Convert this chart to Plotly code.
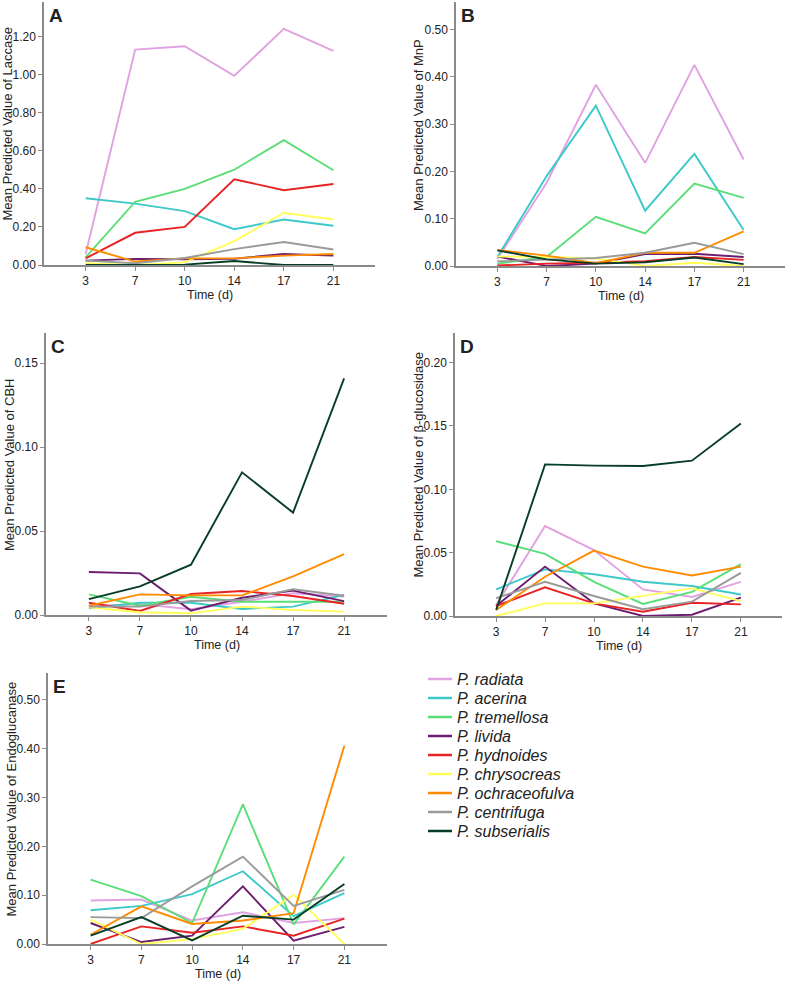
import plotly.graph_objects as go

DAYS = ["3", "7", "10", "14", "17", "21"]
SPECIES = ["P. radiata", "P. acerina", "P. tremellosa", "P. livida", "P. hydnoides",
           "P. chrysocreas", "P. ochraceofulva", "P. centrifuga", "P. subserialis"]
COLORS = ["#e0a2e0", "#3ec9c9", "#5ade78", "#6c1d70", "#e82323",
          "#ffff5a", "#ff8c00", "#9a9a9a", "#073d27"]

# rows follow SPECIES order
LACCASE = [
    [0.058, 1.130, 1.148, 0.993, 1.239, 1.124],
    [0.350, 0.322, 0.283, 0.188, 0.239, 0.206],
    [0.040, 0.332, 0.399, 0.500, 0.655, 0.497],
    [0.023, 0.032, 0.030, 0.033, 0.058, 0.049],
    [0.035, 0.169, 0.200, 0.450, 0.392, 0.425],
    [0.010, 0.000, 0.014, 0.125, 0.274, 0.239],
    [0.093, 0.018, 0.035, 0.035, 0.049, 0.058],
    [0.023, 0.009, 0.037, 0.083, 0.121, 0.081],
    [0.000, 0.000, 0.002, 0.021, 0.000, 0.000],
]
MNP = [
    [0.015, 0.176, 0.383, 0.218, 0.425, 0.225],
    [0.019, 0.190, 0.339, 0.117, 0.237, 0.076],
    [0.005, 0.019, 0.104, 0.069, 0.174, 0.144],
    [0.020, 0.000, 0.005, 0.025, 0.026, 0.019],
    [0.001, 0.005, 0.007, 0.010, 0.019, 0.013],
    [0.020, 0.019, 0.016, 0.000, 0.007, 0.000],
    [0.034, 0.022, 0.006, 0.028, 0.028, 0.073],
    [0.010, 0.013, 0.017, 0.028, 0.049, 0.025],
    [0.033, 0.014, 0.005, 0.008, 0.018, 0.004],
]
CBH = [
    [0.0054, 0.0065, 0.0034, 0.0079, 0.0130, 0.0110],
    [0.0040, 0.0073, 0.0073, 0.0036, 0.0050, 0.0120],
    [0.0123, 0.0055, 0.0109, 0.0079, 0.0079, 0.0079],
    [0.0256, 0.0248, 0.0026, 0.0103, 0.0145, 0.0083],
    [0.0073, 0.0024, 0.0125, 0.0143, 0.0113, 0.0067],
    [0.0046, 0.0016, 0.0010, 0.0050, 0.0030, 0.0020],
    [0.0055, 0.0123, 0.0117, 0.0117, 0.0230, 0.0363],
    [0.0050, 0.0050, 0.0083, 0.0089, 0.0153, 0.0115],
    [0.0095, 0.0170, 0.0300, 0.0850, 0.0610, 0.1410],
]
BGLU = [
    [0.0087, 0.0710, 0.0520, 0.0210, 0.0150, 0.0270],
    [0.0210, 0.0368, 0.0330, 0.0270, 0.0237, 0.0170],
    [0.0590, 0.0490, 0.0270, 0.0095, 0.0190, 0.0410],
    [0.0079, 0.0390, 0.0100, 0.0000, 0.0010, 0.0145],
    [0.0079, 0.0226, 0.0100, 0.0034, 0.0105, 0.0092],
    [0.0000, 0.0100, 0.0100, 0.0158, 0.0218, 0.0118],
    [0.0047, 0.0310, 0.0516, 0.0390, 0.0320, 0.0390],
    [0.0140, 0.0270, 0.0158, 0.0053, 0.0113, 0.0340],
    [0.0047, 0.1197, 0.1187, 0.1184, 0.1226, 0.1520],
]
ENDO = [
    [0.089, 0.091, 0.048, 0.065, 0.043, 0.053],
    [0.069, 0.078, 0.102, 0.149, 0.057, 0.104],
    [0.132, 0.098, 0.043, 0.286, 0.040, 0.179],
    [0.043, 0.004, 0.017, 0.118, 0.007, 0.035],
    [0.000, 0.036, 0.023, 0.036, 0.017, 0.052],
    [0.050, 0.000, 0.010, 0.031, 0.101, 0.000],
    [0.019, 0.077, 0.041, 0.048, 0.063, 0.406],
    [0.055, 0.053, 0.118, 0.179, 0.078, 0.111],
    [0.017, 0.055, 0.0075, 0.058, 0.050, 0.123],
]

PANELS = [
    ("A", LACCASE, "Laccase", (44, 375), (2, 265), 1.38, 0.2),
    ("B", MNP, "MnP", (456, 785), (2, 266), 0.558, 0.1),
    ("C", CBH, "CBH", (46, 387), (333, 615), 0.168, 0.05),
    ("D", BGLU, "β-glucosidase", (455, 782), (333, 616), 0.2234, 0.05),
    ("E", ENDO, "Endoglucanase", (48, 387), (673, 944), 0.555, 0.1),
]

W, H = 790, 982
AX = "#8a8a8a"
TXT = "#222222"
FONT = "Liberation Sans, Arial, sans-serif"

fig = go.Figure()
annotations = []
shapes = []
layout_axes = {}

for i, (letter, data, enz, (x0, x1), (y0, y1), ymax, dt) in enumerate(PANELS):
    n = "" if i == 0 else str(i + 1)
    for s, (name, col) in enumerate(zip(SPECIES, COLORS)):
        fig.add_trace(go.Scatter(
            x=DAYS, y=data[s], mode="lines",
            line=dict(color=col, width=1.9),
            name=name, showlegend=False,
            xaxis="x" + n, yaxis="y" + n,
        ))
    layout_axes["xaxis" + n] = dict(
        domain=[x0 / W, x1 / W], anchor="y" + n, type="category",
        range=[-0.84, 5.84], showline=True, linecolor=AX, linewidth=1.5,
        ticks="outside", ticklen=4, tickcolor=AX, tickwidth=1.2,
        showgrid=False, zeroline=False, automargin=False,
        tickfont=dict(size=12, color=TXT, family=FONT),
    )
    layout_axes["yaxis" + n] = dict(
        domain=[1 - y1 / H, 1 - y0 / H], anchor="x" + n,
        range=[0, ymax], dtick=dt, tick0=0, tickformat=".2f",
        showline=True, linecolor=AX, linewidth=1.5,
        ticks="outside", ticklen=4, tickcolor=AX, tickwidth=1.2,
        showgrid=False, zeroline=False, automargin=False,
        tickfont=dict(size=12, color=TXT, family=FONT),
    )
    annotations.append(dict(
        text="<b>" + letter + "</b>", xref="paper", yref="paper",
        x=(x0 + 3) / W, y=1 - (y0 + 1) / H, xanchor="left", yanchor="top",
        showarrow=False, font=dict(size=19, color=TXT, family=FONT),
    ))
    annotations.append(dict(
        text="Mean Predicted Value of " + enz, xref="paper", yref="paper",
        x=(x0 - 37) / W, y=1 - ((y0 + y1) / 2 - 9) / H,
        xanchor="center", yanchor="middle", textangle=-90,
        showarrow=False, font=dict(size=13, color=TXT, family=FONT),
    ))
    annotations.append(dict(
        text="Time (d)", xref="paper", yref="paper",
        x=((x0 + x1) / 2) / W, y=1 - (y1 + 30) / H,
        xanchor="center", yanchor="middle",
        showarrow=False, font=dict(size=12.5, color=TXT, family=FONT),
    ))

# legend drawn as key lines + italic labels
for k, (name, col) in enumerate(zip(SPECIES, COLORS)):
    yk = 679 + 19 * k
    shapes.append(dict(type="line", xref="paper", yref="paper",
                       x0=428 / W, x1=452 / W, y0=1 - yk / H, y1=1 - yk / H,
                       line=dict(color=col, width=2.5)))
    annotations.append(dict(
        text="<i>" + name + "</i>", xref="paper", yref="paper",
        x=455 / W, y=1 - yk / H, xanchor="left", yanchor="middle",
        showarrow=False, font=dict(size=16, color=TXT, family=FONT),
    ))

fig.update_layout(
    template="none",
    width=W, height=H,
    margin=dict(l=0, r=0, t=0, b=0),
    paper_bgcolor="white", plot_bgcolor="white",
    font=dict(family=FONT, color=TXT),
    annotations=annotations, shapes=shapes,
    showlegend=False,
    **layout_axes,
)

fig.write_html("out.html", config={"displayModeBar": False},
               post_script="document.body.style.margin='0px';")
